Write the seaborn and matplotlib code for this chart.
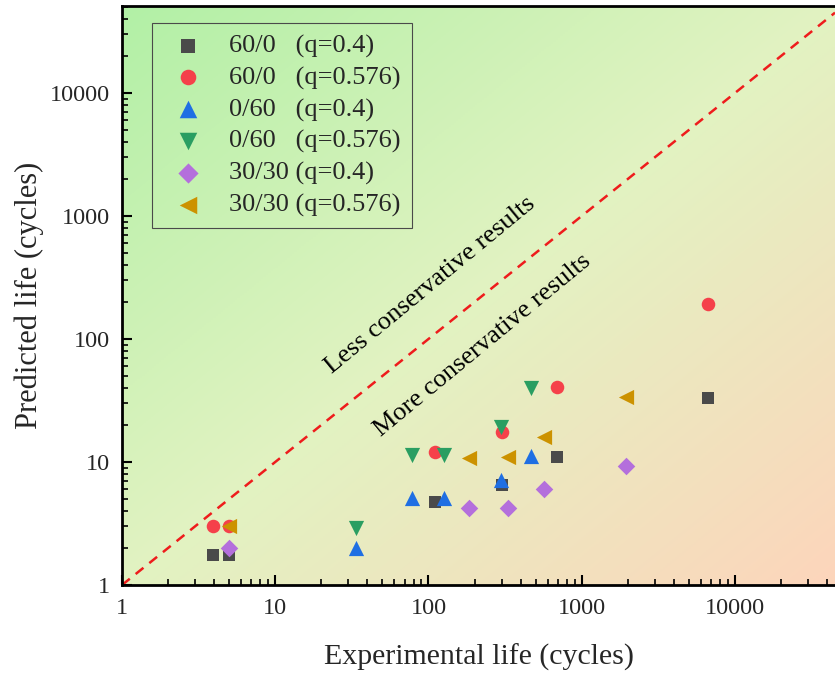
import numpy as np
import pandas as pd
import matplotlib
matplotlib.use("Agg")
import matplotlib.pyplot as plt
from matplotlib.colors import LinearSegmentedColormap
import seaborn as sns

# Experimental vs predicted fatigue life for each loading case
exp_60_0_q04 = [3.9, 5.0, 110, 300, 690, 6650]
pred_60_0_q04 = [1.75, 1.75, 4.7, 6.5, 11, 33]

exp_60_0_q0576 = [3.9, 5.0, 110, 300, 690, 6650]
pred_60_0_q0576 = [3.0, 3.0, 12, 17.5, 41, 193]

exp_0_60_q04 = [33.6, 78, 126, 296, 470]
pred_0_60_q04 = [2.0, 5.1, 5.1, 7.1, 11.2]

exp_0_60_q0576 = [33.6, 78, 126, 296, 470]
pred_0_60_q0576 = [2.9, 11.4, 11.4, 19.3, 40]

exp_30_30_q04 = [5.0, 183, 330, 565, 1960]
pred_30_30_q04 = [2.0, 4.2, 4.2, 6.0, 9.3]

exp_30_30_q0576 = [5.0, 183, 330, 565, 1960]
pred_30_30_q0576 = [3.0, 10.8, 11, 16, 33.8]

labels = ["60/0   (q=0.4)", "60/0   (q=0.576)", "0/60   (q=0.4)",
          "0/60   (q=0.576)", "30/30 (q=0.4)", "30/30 (q=0.576)"]
colors = ["#4a4a4a", "#f5414a", "#1f6fe3", "#2a9e62", "#b46fdc", "#cc9200"]
markers = ["s", "o", "^", "v", "D", "<"]
sizes = [85, 95, 120, 120, 80, 120]

series = [
    (exp_60_0_q04, pred_60_0_q04),
    (exp_60_0_q0576, pred_60_0_q0576),
    (exp_0_60_q04, pred_0_60_q04),
    (exp_0_60_q0576, pred_0_60_q0576),
    (exp_30_30_q04, pred_30_30_q04),
    (exp_30_30_q0576, pred_30_30_q0576),
]

frames = []
for lab, (xs, ys) in zip(labels, series):
    frames.append(pd.DataFrame({"exp": xs, "pred": ys, "case": lab}))
df = pd.concat(frames, ignore_index=True)

sns.set_theme(style="white")
plt.rcParams["font.family"] = ["Liberation Serif", "DejaVu Serif"]
plt.rcParams["mathtext.fontset"] = "stix"

W, H = 835, 675
fig = plt.figure(figsize=(W / 100, H / 100), dpi=100)
ax = fig.add_axes([122 / W, 90 / H, 1 - 122 / W, 579 / H])

xmin, xmax = 1, 45000
ymin, ymax = 1, 51000
ax.set_xscale("log")
ax.set_yscale("log")
ax.set_xlim(xmin, xmax)
ax.set_ylim(ymin, ymax)

# diagonal green-to-peach background
cmap = LinearSegmentedColormap.from_list(
    "bg", ["#b2f0a6", "#e2f3c2", "#fdd5bb"])
gx, gy = np.meshgrid(np.linspace(0, 1, 300), np.linspace(1, 0, 300))
grad = (gx + (1 - gy)) / 2
ax.imshow(grad, cmap=cmap, extent=(0, 1, 0, 1), transform=ax.transAxes,
          aspect="auto", zorder=0, interpolation="bilinear")

# 1:1 reference line
ax.plot([xmin, xmax], [xmin, xmax], color="#ee1c1c", lw=1.8,
        ls=(0, (4, 3)), zorder=1)

for lab, col, mk, sz in zip(labels, colors, markers, sizes):
    sns.scatterplot(data=df[df["case"] == lab], x="exp", y="pred",
                    color=col, marker=mk, s=sz, linewidth=0, ax=ax,
                    label=lab, zorder=3)

# region captions along the diagonal (figure pixel coordinates)
ax.text(430, H - 285, "Less conservative results", transform=None,
        rotation=39.5, ha="center", va="center", fontsize=19,
        color="black", zorder=2, rotation_mode="anchor")
ax.text(483, H - 345, "More conservative results", transform=None,
        rotation=39.5, ha="center", va="center", fontsize=19,
        color="black", zorder=2, rotation_mode="anchor")

ax.set_xticks([1, 10, 100, 1000, 10000])
ax.set_xticklabels(["1", "10", "100", "1000", "10000"])
ax.set_yticks([1, 10, 100, 1000, 10000])
ax.set_yticklabels(["1", "10", "100", "1000", "10000"])
ax.tick_params(axis="both", which="major", direction="in", length=7,
               width=1.5, labelsize=17.5, color="black", pad=9,
               bottom=True, left=True, top=False, right=False)
ax.tick_params(axis="both", which="minor", direction="in", length=4,
               width=1.2, color="black",
               bottom=True, left=True, top=False, right=False)

for side in ["left", "bottom", "top"]:
    ax.spines[side].set_visible(True)
    ax.spines[side].set_color("black")
    ax.spines[side].set_linewidth(2)
ax.spines["right"].set_visible(False)

ax.set_xlabel("Experimental life (cycles)", fontsize=21.5, labelpad=18)
ax.set_ylabel("Predicted life (cycles)", fontsize=22, labelpad=4)

leg = ax.legend(loc="upper left", bbox_to_anchor=(30 / 713, 1 - 17 / 579),
                fontsize=19, frameon=True, fancybox=False, edgecolor="#4a4a4a",
                facecolor="none", framealpha=1, handletextpad=0.6,
                labelspacing=0.3, borderpad=0.42, handlelength=1.9,
                borderaxespad=0, markerscale=1.15)
leg.get_frame().set_linewidth(0.8)

fig.savefig("out.png", dpi=100)
